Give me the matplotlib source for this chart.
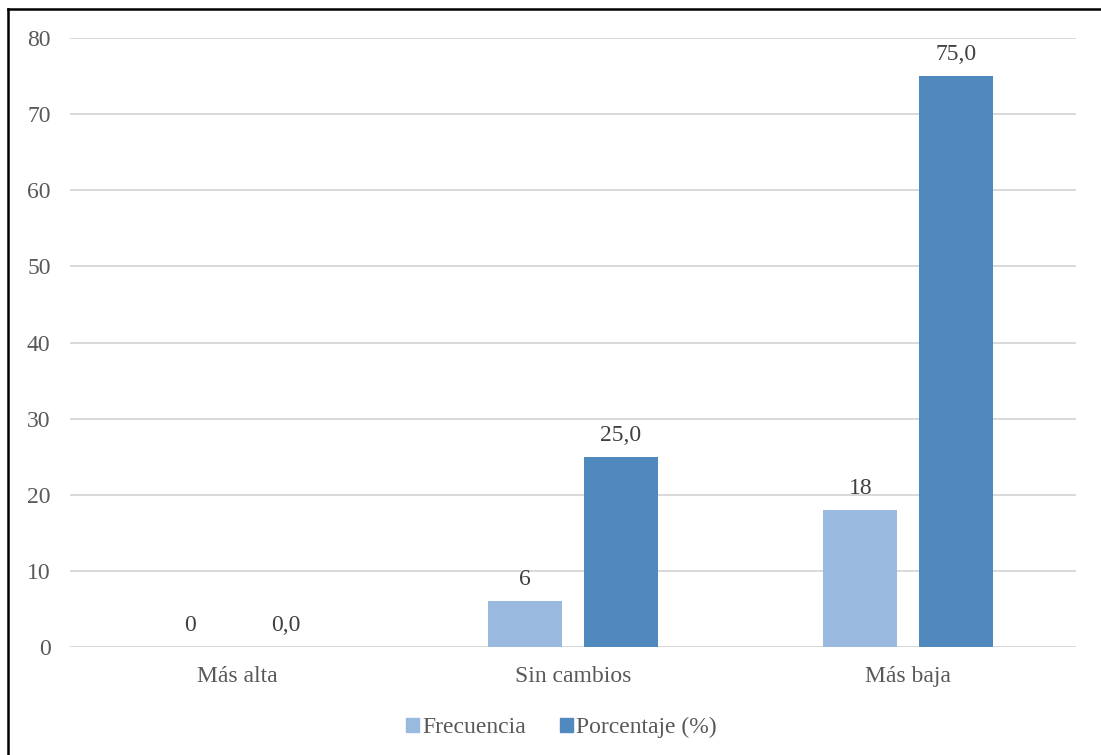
import numpy as np
import matplotlib.pyplot as plt
from matplotlib.lines import Line2D
from matplotlib.patches import Patch

# -----------------------------
# Data
# -----------------------------
categorias = ["Más alta", "Sin cambios", "Más baja"]
frecuencia = [0, 6, 18]
porcentaje = [0.0, 25.0, 75.0]
etiquetas_frec = ["0", "6", "18"]
etiquetas_pct = ["0,0", "25,0", "75,0"]

c_frec = "#9AB9DF"
c_pct = "#4F89BD"
gris = "#595959"
fs = 17

plt.rcParams['font.family'] = ['Liberation Serif', 'DejaVu Serif']

fig = plt.figure(figsize=(11.01, 7.55), dpi=100)
ax = fig.add_axes([0.0636, 0.143, 0.9137, 0.8067])

x = np.arange(len(categorias))
w = 0.221
off = 0.143
b1 = ax.bar(x - off, frecuencia, w, color=c_frec, zorder=3)
b2 = ax.bar(x + off, porcentaje, w, color=c_pct, zorder=3)

# value labels above each bar
for rect, txt in zip(b1, etiquetas_frec):
    ax.annotate(txt, (rect.get_x() + rect.get_width() / 2, rect.get_height()),
                xytext=(0, 8), textcoords="offset points", ha="center", va="bottom",
                fontsize=fs, color="#404040")
for rect, txt in zip(b2, etiquetas_pct):
    ax.annotate(txt, (rect.get_x() + rect.get_width() / 2, rect.get_height()),
                xytext=(0, 8), textcoords="offset points", ha="center", va="bottom",
                fontsize=fs, color="#404040")

ax.set_xlim(-0.5, 2.5)
ax.set_ylim(0, 80)
ax.set_yticks(range(0, 81, 10))
ax.set_xticks(x)
ax.set_xticklabels(categorias)
ax.tick_params(axis="both", length=0, labelsize=fs, labelcolor=gris)
ax.tick_params(axis="y", pad=14)
ax.tick_params(axis="x", pad=14)
ax.yaxis.grid(True, color="#D9D9D9", linewidth=1.4, zorder=0)
for s in ax.spines.values():
    s.set_visible(False)

handles = [Patch(color=c_frec, label="Frecuencia"),
           Patch(color=c_pct, label="Porcentaje (%)")]
fig.legend(handles=handles, loc="center", bbox_to_anchor=(0.51, 0.036), ncol=2,
           frameon=False, fontsize=fs, labelcolor=gris, handlelength=0.55,
           handleheight=0.55, handletextpad=0.15, columnspacing=1.4)

# frame lines (left and top)
fig.add_artist(Line2D([0.0073, 0.0073], [0, 0.9887], color="black", linewidth=1.8,
                      transform=fig.transFigure))
fig.add_artist(Line2D([0.0073, 1.0], [0.9887, 0.9887], color="black", linewidth=1.8,
                      transform=fig.transFigure))

fig.savefig("out.png", dpi=100)
